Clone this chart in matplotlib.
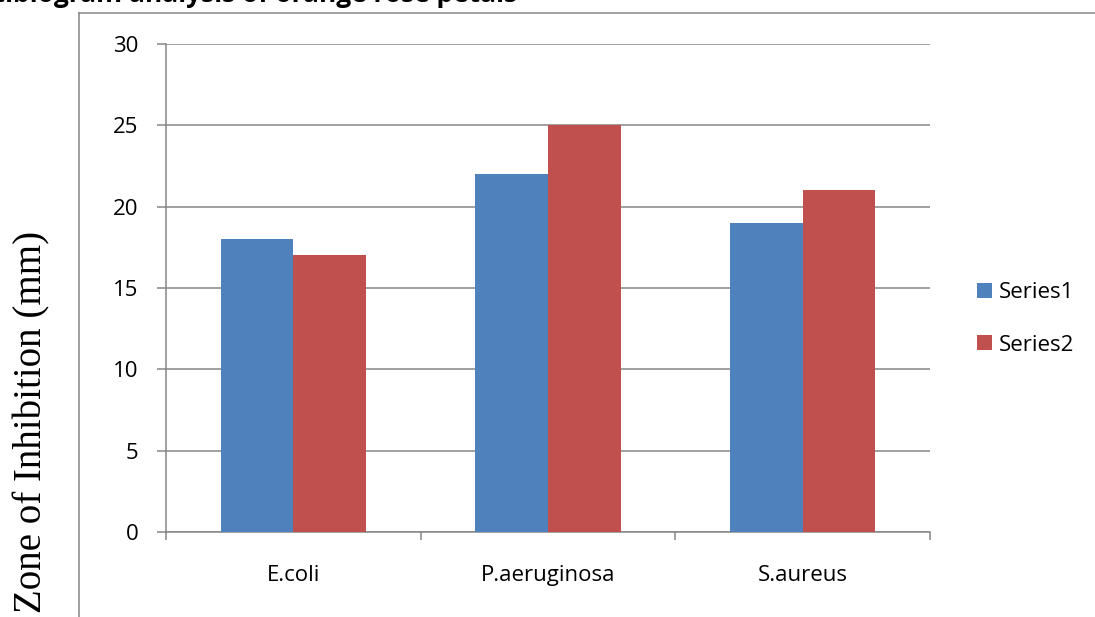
import numpy as np
import matplotlib
matplotlib.use('Agg')
import matplotlib.pyplot as plt
from matplotlib.lines import Line2D

# Zone of inhibition per organism
organisms = ['E.coli', 'P.aeruginosa', 'S.aureus']
series1 = [18, 22, 19]
series2 = [17, 25, 21]
series_names = ['Series1', 'Series2']

plt.rcParams['font.family'] = ['Open Sans', 'DejaVu Sans']

W, H = 1095, 617
fig = plt.figure(figsize=(W / 100, H / 100), dpi=100)
ax = fig.add_axes([166 / W, 1 - 532 / H, (930 - 166) / W, (532 - 44) / H])

grey = '#868686'
x = np.arange(len(organisms))
width = 1 / 3.5  # Excel-style 150% gap width

ax.bar(x - width / 2, series1, width, color='#4F81BD', label=series_names[0], zorder=3)
ax.bar(x + width / 2, series2, width, color='#C0504D', label=series_names[1], zorder=3)

ax.set_xlim(-0.5, len(organisms) - 0.5)
ax.set_ylim(0, 30)
ax.set_yticks(np.arange(0, 31, 5))
ax.yaxis.grid(True, color=grey, linewidth=1.1, zorder=0)

# category labels centred, tick marks on category boundaries
ax.set_xticks(x)
ax.set_xticklabels(organisms)
ax.set_xticks(np.arange(-0.5, len(organisms)), minor=True)
ax.tick_params(axis='x', which='major', length=0, pad=24, labelsize=16)
ax.tick_params(axis='x', which='minor', length=6, width=1.1, color=grey, direction='out')
ax.tick_params(axis='y', length=6.5, width=1.1, color=grey, pad=13.5, labelsize=16)

for side in ['top', 'right']:
    ax.spines[side].set_visible(False)
for side in ['left', 'bottom']:
    ax.spines[side].set_color(grey)
    ax.spines[side].set_linewidth(1.1)

ax.legend(loc='center left', bbox_to_anchor=(968 / W, 1 - 319 / H),
          bbox_transform=fig.transFigure, frameon=False, fontsize=16,
          handlelength=0.7, handleheight=0.65, handletextpad=0.3,
          labelspacing=1.4, borderaxespad=0)

# y label in serif at the far left
fig.text(32 / W, 1 - 422 / H, 'Zone of Inhibition (mm)', rotation=90,
         ha='center', va='center', fontsize=28,
         family=['Liberation Serif', 'DejaVu Serif'])

# chart title, running off the top-left edge
fig.text(517 / W, 1 - 2.5 / H, 'Antibiogram analysis of orange rose petals',
         ha='right', va='baseline', fontsize=19, fontweight='bold')

# outer frame of the chart area
fig.add_artist(Line2D([79 / W, 1], [1 - 12.5 / H, 1 - 12.5 / H],
                      transform=fig.transFigure, color=grey, linewidth=1.1))
fig.add_artist(Line2D([79 / W, 79 / W], [0, 1 - 12.5 / H],
                      transform=fig.transFigure, color=grey, linewidth=1.1))

fig.savefig('out.png', dpi=100)
